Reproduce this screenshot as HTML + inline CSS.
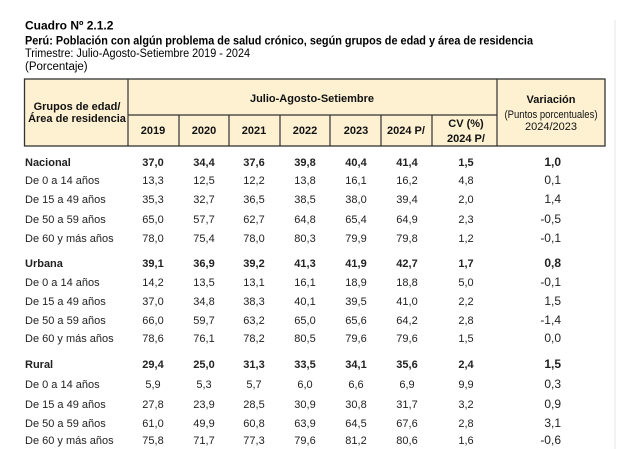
<!DOCTYPE html>
<html><head><meta charset="utf-8"><style>
body{margin:0;background:#fff;}
svg{display:block;font-family:"Liberation Sans",Arial,sans-serif;}
</style></head><body>
<svg id="s" width="620" height="449" viewBox="0 0 620 449">
<text x="25" y="29.5" font-size="12" font-weight="bold">Cuadro Nº 2.1.2</text>
<text x="25" y="44.5" font-size="12" font-weight="bold" textLength="508" lengthAdjust="spacingAndGlyphs">Perú: Población con algún problema de salud crónico, según grupos de edad y área de residencia</text>
<text x="25" y="57" font-size="11.5" textLength="225" lengthAdjust="spacingAndGlyphs">Trimestre: Julio-Agosto-Setiembre 2019 - 2024</text>
<text x="25" y="70" font-size="11.5">(Porcentaje)</text>
<g>
<rect x="24.5" y="79" width="580.5" height="67" fill="#fdf1d2" stroke="#333" stroke-width="1.3"/>
<line x1="128" y1="79" x2="128" y2="146" stroke="#333" stroke-width="1.2"/>
<line x1="497" y1="79" x2="497" y2="146" stroke="#333" stroke-width="1.2"/>
<line x1="128" y1="115" x2="497" y2="115" stroke="#333" stroke-width="1.2"/>
<g stroke="#333" stroke-width="1.2">
<line x1="179" y1="115" x2="179" y2="146"/><line x1="229" y1="115" x2="229" y2="146"/>
<line x1="280" y1="115" x2="280" y2="146"/><line x1="330" y1="115" x2="330" y2="146"/>
<line x1="381" y1="115" x2="381" y2="146"/><line x1="432" y1="115" x2="432" y2="146"/>
</g>
<g font-size="11" font-weight="bold" text-anchor="middle" fill="#111">
<text x="77" y="110">Grupos de edad/</text>
<text x="77" y="122">Área de residencia</text>
<text x="312" y="102">Julio-Agosto-Setiembre</text>
<text x="551" y="103">Variación</text>
<text x="466" y="127">CV (%)</text>
<text x="466" y="142">2024 P/</text>
</g>
<text x="551" y="118" font-size="11" text-anchor="middle" fill="#111" textLength="93" lengthAdjust="spacingAndGlyphs">(Puntos porcentuales)</text>
<text x="551" y="130" font-size="11" text-anchor="middle" fill="#111">2024/2023</text>
<g id="yrs" font-size="11" font-weight="bold" text-anchor="middle" fill="#111"></g>
</g>
<line x1="615" y1="20" x2="615" y2="449" stroke="#e4e4e4" stroke-width="1"/>
<g id="body" font-size="11" fill="#222"></g>
</svg>
<script>
const years=["2019","2020","2021","2022","2023","2024 P/"];
const labels=["Nacional","De 0 a 14 años","De 15 a 49 años","De 50 a 59 años","De 60 y más años",
"Urbana","De 0 a 14 años","De 15 a 49 años","De 50 a 59 años","De 60 y más años",
"Rural","De 0 a 14 años","De 15 a 49 años","De 50 a 59 años","De 60 y más años"];
const v2019=["37,0","13,3","35,3","65,0","78,0","39,1","14,2","37,0","66,0","78,6","29,4","5,9","27,8","61,0","75,8"];
const v2020=["34,4","12,5","32,7","57,7","75,4","36,9","13,5","34,8","59,7","76,1","25,0","5,3","23,9","49,9","71,7"];
const v2021=["37,6","12,2","36,5","62,7","78,0","39,2","13,1","38,3","63,2","78,2","31,3","5,7","28,5","60,8","77,3"];
const v2022=["39,8","13,8","38,5","64,8","80,3","41,3","16,1","40,1","65,0","80,5","33,5","6,0","30,9","63,9","79,6"];
const v2023=["40,4","16,1","38,0","65,4","79,9","41,9","18,9","39,5","65,6","79,6","34,1","6,6","30,8","64,5","81,2"];
const v2024=["41,4","16,2","39,4","64,9","79,8","42,7","18,8","41,0","64,2","79,6","35,6","6,9","31,7","67,6","80,6"];
const cv=["1,5","4,8","2,0","2,3","1,2","1,7","5,0","2,2","2,8","1,5","2,4","9,9","3,2","2,8","1,6"];
const variation=["1,0","0,1","1,4","-0,5","-0,1","0,8","-0,1","1,5","-1,4","0,0","1,5","0,3","0,9","3,1","-0,6"];
const NS="http://www.w3.org/2000/svg";
const colX=[153,204,254,305,356,407,466];
const yearX=[153,204,254,305,356,406];
const yg=document.getElementById('yrs');
years.forEach((y,i)=>{const t=document.createElementNS(NS,'text');


t.setAttribute('x',yearX[i]);t.setAttribute('y',134);t.textContent=y;yg.appendChild(t);});
const body=document.getElementById('body');
const rowY=[166,184,203,223,242,267,286,305,324,342,368,388,408,427,444];
const cols=[v2019,v2020,v2021,v2022,v2023,v2024,cv];
labels.forEach((l,r)=>{
 const bold=(r%5===0);
 const g=document.createElementNS(NS,'g');
 
 
 if(bold)g.setAttribute('font-weight','bold');
 const t=document.createElementNS(NS,'text');
 
 
 t.setAttribute('x',25);t.setAttribute('y',rowY[r]);t.textContent=l;g.appendChild(t);
 cols.forEach((c,i)=>{const e=document.createElementNS(NS,'text');
  
  
  e.setAttribute('x',colX[i]);e.setAttribute('y',rowY[r]);e.setAttribute('text-anchor','middle');e.textContent=c[r];g.appendChild(e);});
 const e=document.createElementNS(NS,'text');
 
 
 e.setAttribute('x',561);e.setAttribute('y',rowY[r]);e.setAttribute('text-anchor','end');
 e.setAttribute('font-size','12');e.textContent=variation[r];g.appendChild(e);
 body.appendChild(g);
});
</script>
</body></html>
